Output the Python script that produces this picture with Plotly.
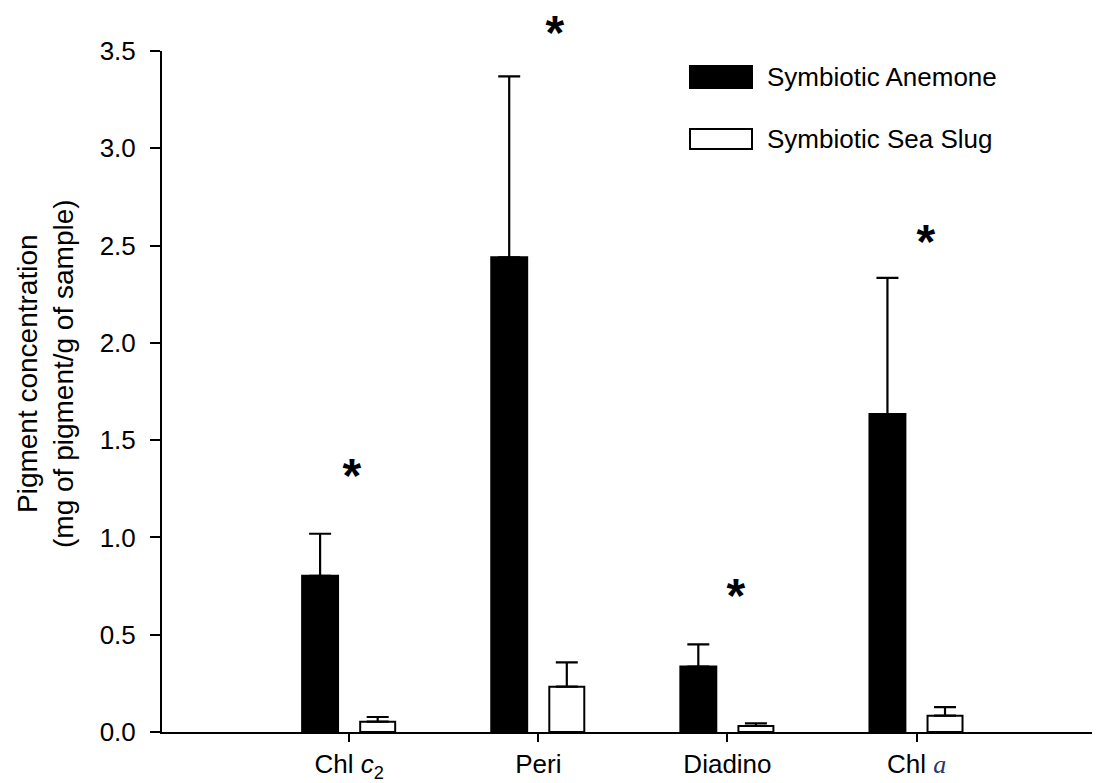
import plotly.graph_objects as go

categories = ["Chl <i>c</i><sub>2</sub>", "Peri", "Diadino",
              "Chl <i><span style='font-family:Liberation Serif;color:#26366a'>a</span></i>"]
anemone_mean = [0.803, 2.44, 0.336, 1.634]
anemone_err = [0.216, 0.93, 0.114, 0.70]
slug_mean = [0.053, 0.233, 0.031, 0.084]
slug_err = [0.024, 0.125, 0.014, 0.044]
star_heights = [1.365, 3.645, 0.75, 2.57]
star_shift_px = [3, 17, 9, 9]
yticks = [0.0, 0.5, 1.0, 1.5, 2.0, 2.5, 3.0, 3.5]
series_names = ["Symbiotic Anemone", "Symbiotic Sea Slug"]
Y_RANGE = [0, 3.5]

FONT = "Liberation Sans, Arial, sans-serif"

# page body adds an 8px margin; compensate in figure size/margins
W, H = 1092, 775
L, R, T, B = 154, 0, 43, 51
PW, PH = W - L - R, H - T - B


def px_x(p):  # page pixel x -> paper
    return (p - 8 - L) / PW


def px_y(p):  # page pixel y -> paper
    return (H - B - (p - 8)) / PH


fig = go.Figure()
fig.add_trace(go.Bar(
    x=categories, y=anemone_mean, name=series_names[0],
    marker=dict(color="black", line=dict(color="black", width=2)),
    offset=-0.249, width=0.19,
    error_y=dict(type="data", array=anemone_err, arrayminus=[0] * 4,
                 symmetric=False, color="black", thickness=2.2, width=11),
    showlegend=False,
))
fig.add_trace(go.Bar(
    x=categories, y=slug_mean, name=series_names[1],
    marker=dict(color="white", line=dict(color="black", width=2)),
    offset=0.058, width=0.185,
    error_y=dict(type="data", array=slug_err, arrayminus=[0] * 4,
                 symmetric=False, color="black", thickness=2.2, width=11),
    showlegend=False,
))

# significance asterisks (y given in paper units via the y-axis scale so the
# one above the axis top is not hidden)
for i, (h, s) in enumerate(zip(star_heights, star_shift_px)):
    fig.add_annotation(x=i, xref="x", yref="paper",
                       y=(h - Y_RANGE[0]) / (Y_RANGE[1] - Y_RANGE[0]),
                       xanchor="center", yanchor="middle",
                       height=34, width=30, valign="middle",
                       text="<b>*</b>",
                       showarrow=False, xshift=s, yshift=-9,
                       font=dict(family=FONT, size=48, color="black"))

# legend drawn manually to match large swatches
leg_rows = [(66, 88), (129, 149)]
fills = ["black", "white"]
for (top, bot), fc, nm in zip(leg_rows, fills, series_names):
    fig.add_shape(type="rect", xref="paper", yref="paper",
                  x0=px_x(690), x1=px_x(752), y0=px_y(bot), y1=px_y(top),
                  fillcolor=fc, line=dict(color="black", width=2))
    fig.add_annotation(xref="paper", yref="paper", x=px_x(765),
                       y=px_y((top + bot) / 2),
                       text=nm, showarrow=False, xanchor="left", yanchor="middle",
                       font=dict(family=FONT, size=26, color="black"))

# y-axis title
fig.add_annotation(xref="paper", yref="paper", x=px_x(45), y=px_y(374),
                   xanchor="center", yanchor="middle",
                   text="Pigment concentration<br>(mg of pigment/g of sample)",
                   textangle=-90, showarrow=False,
                   font=dict(family=FONT, size=28, color="black"))

fig.update_layout(
    width=W, height=H,
    margin=dict(l=L, r=R, t=T, b=B, pad=0),
    plot_bgcolor="white", paper_bgcolor="white",
    barmode="overlay",
    font=dict(family=FONT, size=26, color="black"),
)
fig.update_xaxes(
    range=[-0.99, 3.97], showline=True, linecolor="black", linewidth=2,
    ticks="outside", ticklen=8, tickwidth=2, tickcolor="black",
    showgrid=False, zeroline=False,
    tickfont=dict(family=FONT, size=26, color="black"),
)
fig.update_yaxes(
    range=Y_RANGE, tickvals=yticks, ticktext=[f"{v:.1f}" for v in yticks],
    showline=True, linecolor="black", linewidth=2,
    ticks="outside", ticklen=10, tickwidth=2, tickcolor="black",
    ticklabelstandoff=9,
    showgrid=False, zeroline=False,
    tickfont=dict(family=FONT, size=26, color="black"),
)

fig.write_html("out.html")
